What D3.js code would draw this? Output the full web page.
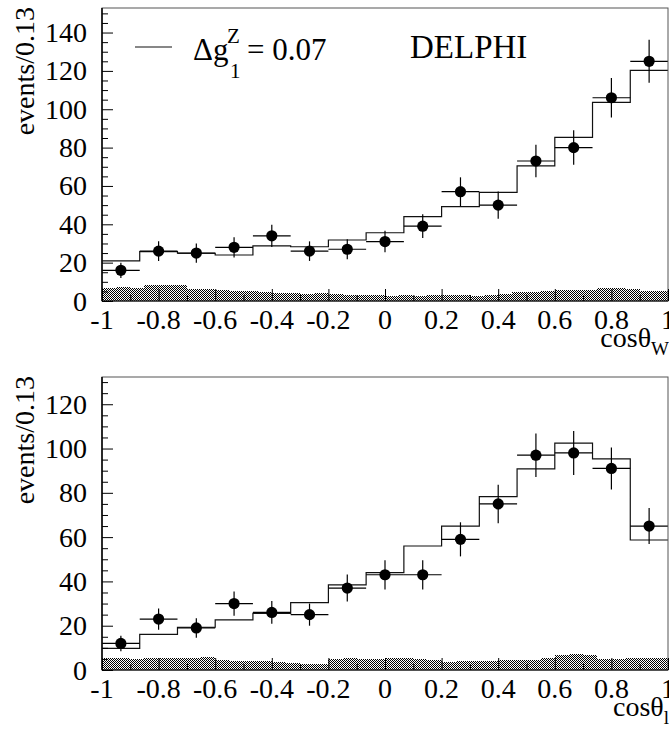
<!DOCTYPE html>
<html><head><meta charset="utf-8">
<script src="https://cdn.jsdelivr.net/npm/d3@7"></script>
<style>
html,body{margin:0;padding:0;background:#fff;}
svg text{font-family:"Liberation Serif","Times New Roman",serif;fill:#000;}
</style></head>
<body>
<svg id="c" width="669" height="740"></svg>
<script>
// ---- data ----
const binCenters = [-0.9333,-0.8,-0.6667,-0.5333,-0.4,-0.2667,-0.1333,0,0.1333,0.2667,0.4,0.5333,0.6667,0.8,0.9333];
const binEdges = [-1,-0.8667,-0.7333,-0.6,-0.4667,-0.3333,-0.2,-0.0667,0.0667,0.2,0.3333,0.4667,0.6,0.7333,0.8667,1];

// top panel: cos theta_W
const topData   = [16,26,25,28,34,26,27,31,39,57,50,73,80,106,125];
const topErr    = [4,5.1,5,5.3,5.8,5.1,5.2,5.6,6.2,7.5,7.1,8.5,9,10.3,11.2];
const topModel  = [20.9,25.7,24.9,24,28.7,28.3,31.8,35.6,44,49.2,56.7,70.5,85.3,103.6,120.3];

// bottom panel: cos theta_l
const botData   = [12,23,19,30,26,25,37,43,43,59,75,97,98,91,65];
const botErr    = [3.5,4.8,4.4,5.5,5.1,5,6.1,6.6,6.6,7.7,8.7,9.8,9.9,9.5,8.1];
const botModel  = [9.8,16.1,19.3,22.6,25.6,30.4,38.4,44,56,65,78.3,90.8,102.4,95.3,58.7];

// background (fine bins of 0.05 starting at -1)
const bgEdges = d3.range(40).map(i => -1 + i*0.05);
const topBg = [7.0,7.2,7.0,8.3,8.5,8.2,6.3,6.0,5.6,5.2,5.0,4.6,4.2,4.0,3.8,4.0,3.6,3.2,3.0,3.3,
               2.8,3.2,2.7,2.9,3.0,3.3,2.6,3.0,3.4,4.6,4.8,5.0,5.6,5.8,5.5,6.6,6.8,6.4,5.4,5.2];
const botBg = [5.2,5.3,5.0,5.4,5.5,5.6,5.4,5.7,4.3,4.2,4.0,4.1,3.8,3.0,2.9,2.6,5.0,5.2,5.1,5.0,
               5.4,5.3,5.0,4.4,3.8,3.9,4.0,4.2,4.4,4.5,4.6,5.2,6.8,7.0,6.6,5.0,4.8,5.2,5.4,5.6];

const xTickVals = [-1,-0.8,-0.6,-0.4,-0.2,0,0.2,0.4,0.6,0.8,1];
const xTickLabels = ["-1","-0.8","-0.6","-0.4","-0.2","0","0.2","0.4","0.6","0.8","1"];
const topYTicks = [0,20,40,60,80,100,120,140];
const botYTicks = [0,20,40,60,80,100,120];

const FONT = "Liberation Serif, Times New Roman, serif";
const svg = d3.select("#c");

// checkerboard pattern
const pat = svg.append("defs").append("pattern")
  .attr("id","chk").attr("patternUnits","userSpaceOnUse")
  .attr("width",2).attr("height",2);
pat.append("rect").attr("width",2).attr("height",2).attr("fill","#fff");
pat.append("rect").attr("x",0).attr("y",0).attr("width",1).attr("height",1).attr("fill","#000");
pat.append("rect").attr("x",1).attr("y",1).attr("width",1).attr("height",1).attr("fill","#000");

function panel(o){
  const x = d3.scaleLinear().domain([-1,1]).range([102,668]);
  const y = d3.scaleLinear().domain([0,o.ymax]).range([o.y0,o.y1]);
  const g = svg.append("g");

  // background shading
  const bgPts = bgEdges.map((e,i)=>[e,o.bg[i]]).concat([[1,o.bg[o.bg.length-1]]]);
  g.append("path")
    .attr("d", d3.area().x(d=>x(d[0])).y0(y(0)).y1(d=>y(d[1])).curve(d3.curveStepAfter)(bgPts))
    .attr("fill","url(#chk)").attr("shape-rendering","crispEdges");

  // model histogram
  const mPts = binEdges.slice(0,15).map((e,i)=>[e,o.model[i]]).concat([[1,o.model[14]]]);
  g.append("path")
    .attr("d", d3.line().x(d=>x(d[0])).y(d=>y(d[1])).curve(d3.curveStepAfter)(mPts))
    .attr("fill","none").attr("stroke","#111").attr("stroke-width",1.2);

  // data points with error bars
  const pts = g.append("g");
  o.data.forEach((v,i)=>{
    const cx = x(binCenters[i]);
    pts.append("line").attr("x1",x(binEdges[i])).attr("x2",x(binEdges[i+1]))
      .attr("y1",y(v)).attr("y2",y(v)).attr("stroke","#000").attr("stroke-width",1.2);
    pts.append("line").attr("x1",cx).attr("x2",cx)
      .attr("y1",y(v-o.err[i])).attr("y2",y(v+o.err[i])).attr("stroke","#000").attr("stroke-width",1.2);
    pts.append("circle").attr("cx",cx).attr("cy",y(v)).attr("r",5.6).attr("fill","#000");
  });

  // frame
  g.append("rect").attr("x",102).attr("y",o.y1).attr("width",566).attr("height",o.y0-o.y1)
    .attr("fill","none").attr("stroke","#555").attr("stroke-width",1);
  g.append("line").attr("x1",102).attr("x2",102).attr("y1",o.y1).attr("y2",o.y0)
    .attr("stroke","#000").attr("stroke-width",1.5);
  g.append("line").attr("x1",102).attr("x2",668).attr("y1",o.y0).attr("y2",o.y0)
    .attr("stroke","#000").attr("stroke-width",1.2);

  // y axis (ticks inward)
  const yMinor = d3.range(0,o.ymax,5);
  const ya = d3.axisRight(y).tickValues(yMinor).tickSize(6).tickFormat("");
  const yg = g.append("g").attr("transform","translate(102,0)").call(ya);
  yg.select(".domain").remove();
  yg.selectAll(".tick line").attr("stroke","#000").attr("stroke-width",1)
    .attr("x2", d => d%20===0 ? 11 : 6);
  g.selectAll(".ylab").data(o.yTicks).enter().append("text")
    .attr("x",87).attr("y",d=>y(d)).attr("dy","0.34em").attr("text-anchor","end")
    .attr("font-family",FONT).attr("font-size",28).text(d=>d);

  // x axis (ticks up)
  const xa = d3.axisTop(x).tickValues(d3.range(-1,1.001,0.1)).tickSize(6).tickFormat("");
  const xg = g.append("g").attr("transform",`translate(0,${o.y0})`).call(xa);
  xg.select(".domain").remove();
  xg.selectAll(".tick line").attr("stroke","#000").attr("stroke-width",1)
    .attr("y2", (d,i) => i%2===0 ? -12 : -6);
  g.selectAll(".xlab").data(xTickVals).enter().append("text")
    .attr("x",d=>x(d)).attr("y",o.y0+28).attr("text-anchor","middle")
    .attr("font-family",FONT).attr("font-size",28).text((d,i)=>xTickLabels[i]);

  // y title
  g.append("text").attr("transform",`translate(34,${o.y1-1}) rotate(-90)`)
    .attr("text-anchor","end").attr("font-family",FONT).attr("font-size",28).text("events/0.13");

  // x title
  const xt = g.append("text").attr("x",669).attr("y",o.y0+46).attr("text-anchor","end")
    .attr("font-family",FONT).attr("font-size",28);
  xt.append("tspan").text("cosθ");
  xt.append("tspan").attr("dy",8).attr("font-size",19).text(o.sub);
}

panel({ymax:152.8, y0:301, y1:8, data:topData, err:topErr, model:topModel, bg:topBg, yTicks:topYTicks, sub:"W"});
panel({ymax:132.3, y0:670, y1:377, data:botData, err:botErr, model:botModel, bg:botBg, yTicks:botYTicks, sub:"l"});

// legend
svg.append("line").attr("x1",135).attr("x2",172).attr("y1",47).attr("y2",47)
  .attr("stroke","#111").attr("stroke-width",1.2);
svg.append("text").attr("x",193).attr("y",60).attr("font-family",FONT).attr("font-size",31).text("Δg");
svg.append("text").attr("x",227).attr("y",43).attr("font-family",FONT).attr("font-size",21).text("Z");
svg.append("text").attr("x",230).attr("y",78).attr("font-family",FONT).attr("font-size",21).text("1");
svg.append("text").attr("x",247).attr("y",60).attr("font-family",FONT).attr("font-size",31).text("= 0.07");
svg.append("text").attr("x",410).attr("y",58).attr("font-family",FONT).attr("font-size",33).text("DELPHI");
</script>
</body></html>
